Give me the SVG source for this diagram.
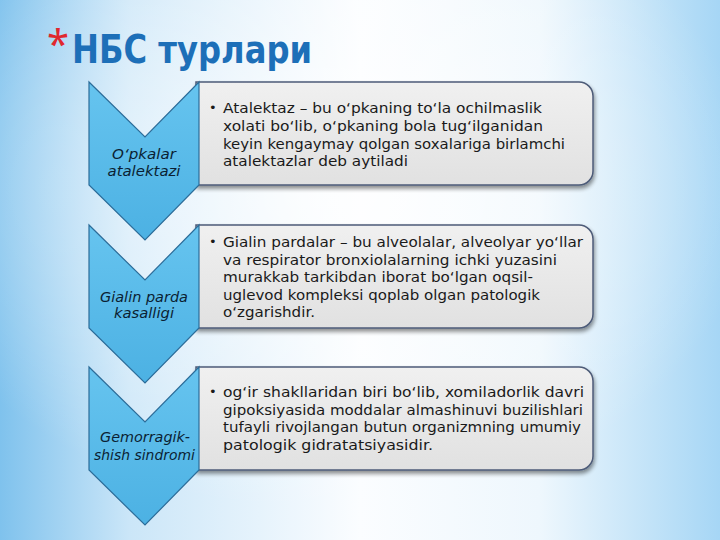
<svg xmlns="http://www.w3.org/2000/svg" width="720" height="540" viewBox="0 0 720 540">
<defs>
  <linearGradient id="bgH" x1="0" y1="0" x2="1" y2="0">
    <stop offset="0" stop-color="#7fc2ed"/>
    <stop offset="0.18" stop-color="#cbe6f8"/>
    <stop offset="0.5" stop-color="#fbfdff"/>
    <stop offset="0.75" stop-color="#eef7fd"/>
    <stop offset="1" stop-color="#a6d6f5"/>
  </linearGradient>
  <radialGradient id="bgR" cx="0.45" cy="0.35" r="0.6">
    <stop offset="0" stop-color="#ffffff" stop-opacity="0.8"/>
    <stop offset="1" stop-color="#ffffff" stop-opacity="0"/>
  </radialGradient>
  <linearGradient id="chev" x1="0" y1="0" x2="0" y2="1">
    <stop offset="0" stop-color="#66c4ef"/>
    <stop offset="1" stop-color="#4cb1e3"/>
  </linearGradient>
  <linearGradient id="boxg" x1="0" y1="0" x2="0" y2="1">
    <stop offset="0" stop-color="#f0f0f0"/>
    <stop offset="1" stop-color="#e1e1e1"/>
  </linearGradient>
  <filter id="sh" x="-5%" y="-10%" width="112%" height="130%">
    <feGaussianBlur in="SourceAlpha" stdDeviation="2"/>
    <feOffset dx="1" dy="2.5" result="b"/>
    <feComponentTransfer><feFuncA type="linear" slope="0.45"/></feComponentTransfer>
    <feMerge><feMergeNode/><feMergeNode in="SourceGraphic"/></feMerge>
  </filter>
  <style>
    .chev { fill: url(#chev); stroke: #2b6c99; stroke-width: 1.2; stroke-linejoin: miter; }
    .box { fill: url(#boxg); stroke: #4d5b78; stroke-width: 1.5; filter: url(#sh); }
    .lbl { font-family: "DejaVu Sans", "Noto Sans", sans-serif; font-style: italic; font-size: 14.5px; fill: #0b1f33; text-anchor: middle; }
    .txt { font-family: "DejaVu Sans", "Noto Sans", sans-serif; font-size: 14.5px; fill: #1a1a1a; }
    .bul { font-family: "DejaVu Sans", "Noto Sans", sans-serif; font-size: 13px; fill: #1a1a1a; }
  </style>
</defs>

<rect width="720" height="540" fill="url(#bgH)"/>
<rect width="720" height="540" fill="url(#bgR)"/>

<g id="title">
  <text x="47" y="58" font-family="Noto Sans, DejaVu Sans, sans-serif" font-size="40" fill="#e0282e">*</text>
  <text x="72" y="63" font-family="DejaVu Sans, Noto Sans, sans-serif" font-weight="bold" font-size="39" fill="#1d6fb8" textLength="240" lengthAdjust="spacingAndGlyphs">НБС турлари</text>
</g>

<g id="node1">
  <path class="box" d="M196,82 H579 A14,14 0 0 1 593,96 V171 A14,14 0 0 1 579,185 H196 Z"/>
  <path class="chev" d="M89,82 L145,137 L199,82 L199,185 L145,240 L89,185 Z"/>
  <text class="lbl" x="144" y="159" textLength="64" lengthAdjust="spacingAndGlyphs">O‘pkalar</text>
  <text class="lbl" x="144" y="176" textLength="73" lengthAdjust="spacingAndGlyphs">atalektazi</text>
  <text class="bul" x="209" y="112">•</text>
  <text class="txt" x="223" y="113" textLength="319" lengthAdjust="spacingAndGlyphs">Atalektaz – bu o‘pkaning to‘la ochilmaslik</text>
  <text class="txt" x="223" y="131" textLength="320" lengthAdjust="spacingAndGlyphs">xolati bo‘lib, o‘pkaning bola tug‘ilganidan</text>
  <text class="txt" x="223" y="148.5" textLength="342" lengthAdjust="spacingAndGlyphs">keyin kengaymay qolgan soxalariga birlamchi</text>
  <text class="txt" x="223" y="166" textLength="185" lengthAdjust="spacingAndGlyphs">atalektazlar deb aytiladi</text>
</g>

<g id="node2">
  <path class="box" d="M196,225 H579 A14,14 0 0 1 593,239 V314 A14,14 0 0 1 579,328 H196 Z"/>
  <path class="chev" d="M89,225 L145,280 L199,225 L199,328 L145,383 L89,328 Z"/>
  <text class="lbl" x="144" y="302" textLength="88" lengthAdjust="spacingAndGlyphs">Gialin parda</text>
  <text class="lbl" x="144" y="318" textLength="60" lengthAdjust="spacingAndGlyphs">kasalligi</text>
  <text class="bul" x="209" y="246">•</text>
  <text class="txt" x="223" y="247" textLength="360" lengthAdjust="spacingAndGlyphs">Gialin pardalar – bu alveolalar, alveolyar yo‘llar</text>
  <text class="txt" x="223" y="264.5" textLength="334" lengthAdjust="spacingAndGlyphs">va respirator bronxiolalarning ichki yuzasini</text>
  <text class="txt" x="223" y="282" textLength="310" lengthAdjust="spacingAndGlyphs">murakkab tarkibdan iborat bo‘lgan oqsil-</text>
  <text class="txt" x="223" y="299.5" textLength="317" lengthAdjust="spacingAndGlyphs">uglevod kompleksi qoplab olgan patologik</text>
  <text class="txt" x="223" y="317" textLength="92" lengthAdjust="spacingAndGlyphs">o‘zgarishdir.</text>
</g>

<g id="node3">
  <path class="box" d="M196,367 H579 A14,14 0 0 1 593,381 V456 A14,14 0 0 1 579,470 H196 Z"/>
  <path class="chev" d="M89,367 L145,422 L199,367 L199,470 L145,525 L89,470 Z"/>
  <text class="lbl" x="145" y="442" textLength="90" lengthAdjust="spacingAndGlyphs">Gemorragik-</text>
  <text class="lbl" x="144.5" y="460" textLength="101" lengthAdjust="spacingAndGlyphs">shish sindromi</text>
  <text class="bul" x="209" y="396">•</text>
  <text class="txt" x="223" y="397" textLength="361" lengthAdjust="spacingAndGlyphs">og‘ir shakllaridan biri bo‘lib, xomiladorlik davri</text>
  <text class="txt" x="223" y="414.5" textLength="360" lengthAdjust="spacingAndGlyphs">gipoksiyasida moddalar almashinuvi buzilishlari</text>
  <text class="txt" x="223" y="432" textLength="358" lengthAdjust="spacingAndGlyphs">tufayli rivojlangan butun organizmning umumiy</text>
  <text class="txt" x="223" y="449.5" textLength="210" lengthAdjust="spacingAndGlyphs">patologik gidratatsiyasidir.</text>
</g>

<g id="connectors"></g>
</svg>
